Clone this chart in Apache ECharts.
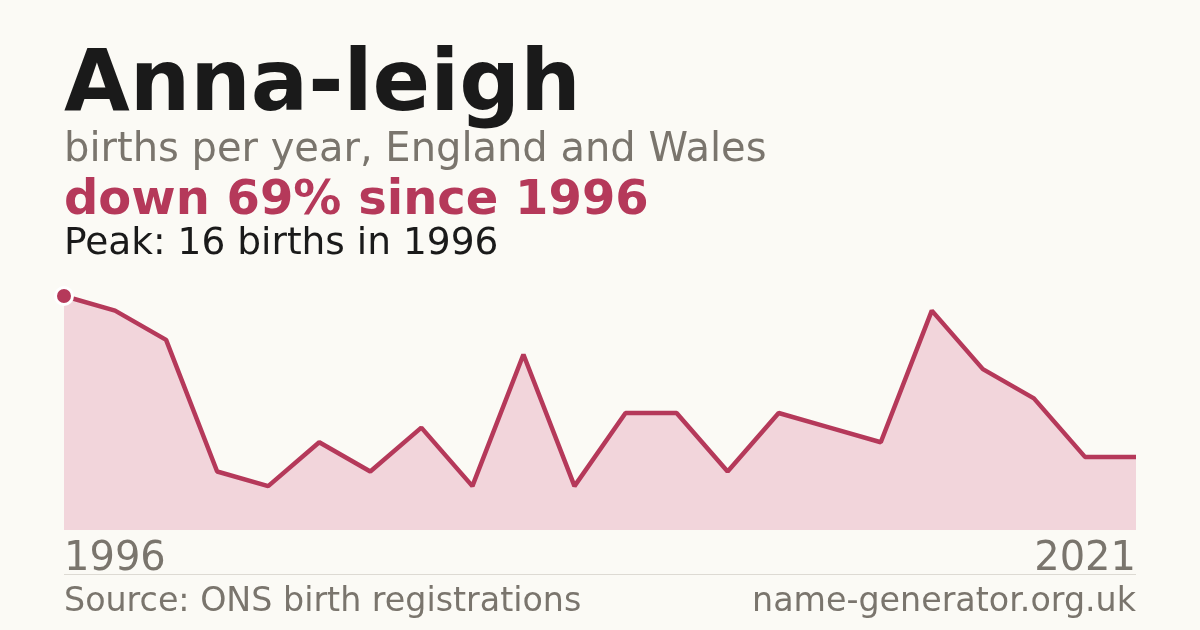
<!DOCTYPE html>
<html lang="en">
<head>
    <meta charset="UTF-8">
    <script src="https://cdn.jsdelivr.net/npm/echarts@6/dist/echarts.min.js"></script>
    <title>Anna-leigh</title>
    <style>
        html, body { height: 100%; }
        * { padding: 0; margin: 0; }
        body { background: #fbfaf5; }
    </style>
</head>
<body>
    <div id="chart" style="width: 1200px;height: 630px;"></div>
    <script>
        // years with published counts (gaps are years under 3 births)
        var years = ['1996', '1997', '1998', '1999', '2000', '2001', '2002', '2003', '2004', '2005', '2006',
            '2007', '2008', '2009', '2010', '2011', '2012', '2013', '2015', '2016', '2018', '2021'];
        var births = [16, 15, 13, 4, 3, 6, 4, 7, 3, 12, 3, 8, 8, 4, 8, 7, 6, 15, 11, 9, 5, 5];

        var bg = '#fbfaf5';
        var red = '#b5395a';
        var grey = '#7a756d';
        var font = '"DejaVu Sans", sans-serif';

        var lineData = births.map(function (v, i) {
            if (i === 0) {
                return {
                    value: v,
                    symbol: 'circle',
                    symbolSize: 17,
                    itemStyle: { color: red, borderColor: '#ffffff', borderWidth: 3 }
                };
            }
            return v;
        });

        var myChart = echarts.init(document.getElementById('chart'));
        var option = {
            backgroundColor: bg,
            animation: false,
            grid: { left: 64, right: 64, top: 296, bottom: 100 },
            xAxis: {
                type: 'category',
                data: years,
                boundaryGap: false,
                axisLine: { show: false },
                axisTick: { show: false },
                splitLine: { show: false },
                axisLabel: {
                    interval: function (i) { return i === 0 || i === years.length - 1; },
                    color: grey,
                    fontFamily: font,
                    fontSize: 40,
                    margin: 10,
                    alignMinLabel: 'left',
                    alignMaxLabel: 'right'
                }
            },
            yAxis: {
                type: 'value',
                min: 0,
                max: 16,
                show: false
            },
            series: [{
                type: 'line',
                data: lineData,
                symbol: 'none',
                showSymbol: true,
                lineStyle: { color: red, width: 4.5 },
                itemStyle: { color: red },
                areaStyle: { color: '#f2d5db', opacity: 1 },
                z: 3
            }],
            graphic: [
                { type: 'text', left: 64, top: 45, style: { text: 'Anna-leigh', font: 'bold 85px ' + font, fill: '#1a1a1a' } },
                { type: 'text', left: 64, top: 131, style: { text: 'births per year, England and Wales', font: '40px ' + font, fill: grey } },
                { type: 'text', left: 64, top: 178, style: { text: 'down 69% since 1996', font: 'bold 48px ' + font, fill: red } },
                { type: 'text', left: 64, top: 225, style: { text: 'Peak: 16 births in 1996', font: '37.5px ' + font, fill: '#1a1a1a' } },
                { type: 'line', shape: { x1: 64, y1: 574.5, x2: 1136, y2: 574.5 }, style: { stroke: '#dddad3', lineWidth: 1 } },
                { type: 'text', left: 64, top: 586, style: { text: 'Source: ONS birth registrations', font: '33.3px ' + font, fill: grey } },
                { type: 'text', right: 64, top: 586, style: { text: 'name-generator.org.uk', font: '33.3px ' + font, fill: grey } }
            ]
        };
        myChart.setOption(option);
    </script>
</body>
</html>
